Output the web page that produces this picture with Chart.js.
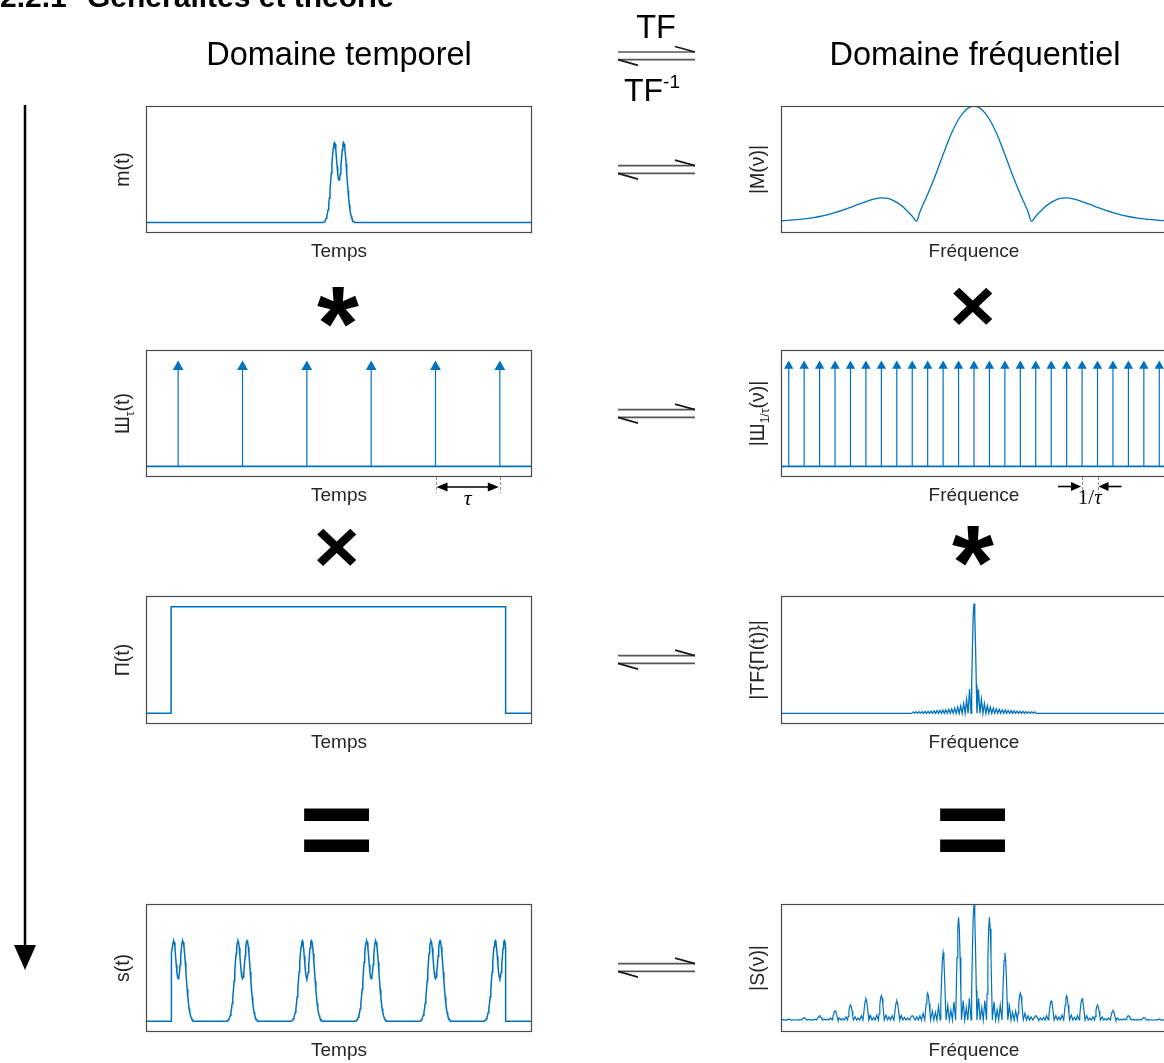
<!DOCTYPE html>
<html><head><meta charset="utf-8">
<script src="https://cdn.jsdelivr.net/npm/chart.js@4.4.1/dist/chart.umd.min.js"></script>
<style>
html,body{margin:0;padding:0;background:#fff;width:1164px;height:1063px;overflow:hidden;}
#stage{position:relative;width:1164px;height:1063px;overflow:hidden;background:#fff;}
canvas{position:absolute;}
</style></head>
<body><div id="stage"><canvas id="deco" width="1164" height="1063" style="left:0;top:0;width:1164px;height:1063px"></canvas></div>
<script>
// ---------------- DATA ----------------
const timeRange = [0, 6];
const freqRange = [0, 25];
const combTimes = [0.5, 1.5, 2.5, 3.5, 4.5, 5.5];
const combFreqs = [0.5,1.5,2.5,3.5,4.5,5.5,6.5,7.5,8.5,9.5,10.5,11.5,12.5,13.5,14.5,15.5,16.5,17.5,18.5,19.5,20.5,21.5,22.5,23.5,24.5];
const deltaTip = 1.0;
const singlePulseCenter = 3.0;
const pulseOffsets = [0,0.01,0.02,0.03,0.04,0.05,0.06,0.07,0.08,0.09,0.10,0.11,0.12,0.13,0.14,0.15,0.16,0.17,0.18,0.19,0.20,0.21,0.22,0.23,0.24,0.25];
const pulseProfile = [0.400,0.415,0.460,0.530,0.610,0.685,0.740,0.755,0.740,0.700,0.635,0.555,0.465,0.380,0.300,0.230,0.170,0.120,0.085,0.058,0.038,0.024,0.014,0.007,0.003,0];
const rectTimes  = [0, 0.39, 0.39, 5.59, 5.59, 6];
const rectLevels = [0, 0, 1, 1, 0, 0];
const rectWindow = [0.39, 5.59];

const freqCenter = 12.5;
const mFreqOffsets = [0,0.5,1,1.5,2,2.5,3,3.5,3.72,4,4.5,5,5.5,6,6.5,7,7.5,8,8.5,9,9.5,10,10.5,11,11.5,12,12.5];
const mMagnitude   = [1.0,0.97,0.885,0.75,0.58,0.40,0.235,0.085,0,0.045,0.115,0.165,0.198,0.205,0.193,0.172,0.148,0.122,0.098,0.077,0.058,0.043,0.031,0.022,0.015,0.010,0.006];

const tfPeak = 1.03;
const mainLobeOffsets = [0.05, 0.10, 0.15];
const mainLobeShape = [0.89, 0.61, 0.26];
const lobeSpacing = 0.192;
const tfSideLobes = [0.225,0.13,0.092,0.071,0.058,0.049,0.042,0.037,0.033,0.030,0.027,0.025,0.023,0.021,0.019,0.018,0.017,0.016,0.015,0.014];

const sPeakHeights = [0.01,0.023,0.04,0.083,0.133,0.185,0.213,0.167,0.04,0.234,0.58,0.885,1.0,0.885,0.58,0.234,0.04,0.167,0.213,0.185,0.133,0.083,0.04,0.023,0.01];
const sRipples = [
 [0.005,0.004,0.006],[0.008,0.006,0.010],[0.012,0.010,0.020],[0.020,0.015,0.030],
 [0.030,0.020,0.040],[0.040,0.025,0.045],[0.045,0.030,0.040],[0.040,0.025,0.020],
 [0.030,0.040,0.060],[0.080,0.070,0.120],[0.130,0.090,0.160],[0.170,0.110,0.190],
 [0.190,0.110,0.170],[0.160,0.090,0.130],[0.120,0.070,0.080],[0.060,0.040,0.030],
 [0.020,0.025,0.040],[0.040,0.030,0.045],[0.045,0.025,0.040],[0.040,0.020,0.030],
 [0.030,0.015,0.020],[0.020,0.010,0.012],[0.010,0.006,0.008],[0.006,0.004,0.005]
];
const sRippleOffsets = [0.3, 0.5, 0.7];
const sFloorOffsets = [0.19, 0.4, 0.6, 0.81];
const sFloor = 0.003;
const sEdgeLeft  = [[0,0.004],[0.15,0.006],[0.31,0.002]];
const sEdgeRight = [[24.69,0.002],[24.85,0.006],[25,0.004]];

const yTime = [-0.1, 1.1];
const yMag  = [-0.1, 1.0];

// ---------------- STYLE ----------------
const BLUE = '#0072BD';
const FRAME = '#4a4a4a';
const LABEL = '#262626';
const SANS = '"Liberation Sans", Arial, Helvetica, sans-serif';
const SERIF = '"Liberation Serif", "DejaVu Serif", serif';
const PAD = {l:46, r:4, t:4, b:40};
const COLX = [146, 781];
const BOXW = 386;
const ROWS = [{y:106,h:127},{y:350,h:127},{y:596,h:128},{y:904,h:128}];
const stage = document.getElementById('stage');

// ---------------- BUILDERS ----------------
function pulseAt(c){
  const p=[];
  for(let i=pulseOffsets.length-1;i>0;i--) p.push({x:c-pulseOffsets[i], y:pulseProfile[i]});
  for(let i=0;i<pulseOffsets.length;i++) p.push({x:c+pulseOffsets[i], y:pulseProfile[i]});
  return p;
}
function lobeCluster(c,hgt){
  const p=[];
  for(let i=mainLobeOffsets.length-1;i>=0;i--) p.push({x:c-mainLobeOffsets[i], y:hgt*mainLobeShape[i]});
  p.push({x:c,y:hgt});
  for(let i=0;i<mainLobeOffsets.length;i++) p.push({x:c+mainLobeOffsets[i], y:hgt*mainLobeShape[i]});
  return p;
}
const mTimePts = [{x:timeRange[0],y:0}, ...pulseAt(singlePulseCenter), {x:timeRange[1],y:0}];
const rectPts = rectTimes.map((t,i)=>({x:t,y:rectLevels[i]}));
const sTimePts = [{x:timeRange[0],y:0},{x:rectWindow[0],y:0}];
combTimes.forEach(c=>pulseAt(c).forEach(p=>{ if(p.x>=rectWindow[0]-1e-9 && p.x<=rectWindow[1]+1e-9) sTimePts.push(p); }));
sTimePts.push({x:rectWindow[1],y:0},{x:timeRange[1],y:0});

const mFreqPts=[];
for(let i=mFreqOffsets.length-1;i>0;i--) mFreqPts.push({x:freqCenter-mFreqOffsets[i], y:mMagnitude[i]});
for(let i=0;i<mFreqOffsets.length;i++) mFreqPts.push({x:freqCenter+mFreqOffsets[i], y:mMagnitude[i]});

const tfPts=[{x:freqRange[0],y:0}];
for(let n=tfSideLobes.length;n>=1;n--){ tfPts.push({x:freqCenter-(n+1)*lobeSpacing,y:0},{x:freqCenter-(n+0.5)*lobeSpacing,y:tfSideLobes[n-1]}); }
tfPts.push({x:freqCenter-lobeSpacing,y:0}, ...lobeCluster(freqCenter,tfPeak), {x:freqCenter+lobeSpacing,y:0});
for(let n=1;n<=tfSideLobes.length;n++){ tfPts.push({x:freqCenter+(n+0.5)*lobeSpacing,y:tfSideLobes[n-1]},{x:freqCenter+(n+1)*lobeSpacing,y:0}); }
tfPts.push({x:freqRange[1],y:0});

const sFreqPts = sEdgeLeft.map(([x,y])=>({x,y}));
combFreqs.forEach((f,k)=>{
  sFreqPts.push(...lobeCluster(f,sPeakHeights[k]));
  if(k<combFreqs.length-1){
    const r=sRipples[k];
    sFreqPts.push({x:f+sFloorOffsets[0],y:sFloor});
    for(let j=0;j<3;j++){ sFreqPts.push({x:f+sRippleOffsets[j],y:r[j]},{x:f+sFloorOffsets[j+1],y:sFloor}); }
  }
});
sEdgeRight.forEach(([x,y])=>sFreqPts.push({x,y}));

function line(data, w, extra){ return Object.assign({data, borderColor:BLUE, borderWidth:w||1.5, pointRadius:0, fill:false, tension:0, spanGaps:false}, extra||{}); }
function combSets(positions, xr, box, r){
  const pxPerUnit = box.h/(yTime[1]-yTime[0]);
  const head = deltaTip - r/pxPerUnit;
  const stems=[];
  positions.forEach(p=>{ stems.push({x:p,y:0},{x:p,y:head},{x:p,y:null}); });
  return [
    line([{x:xr[0],y:0},{x:xr[1],y:0}],1.6),
    line(stems,1.2),
    {data:positions.map(p=>({x:p,y:head})), showLine:false, pointStyle:'triangle', pointRadius:r, pointBackgroundColor:BLUE, pointBorderWidth:0, borderColor:BLUE}
  ];
}

// ---------------- DRAW HELPERS ----------------
function drawRich(ctx, segs, cx, cy, size, rotate){
  ctx.save(); ctx.translate(cx,cy); if(rotate) ctx.rotate(-Math.PI/2);
  let total=0;
  segs.forEach(s=>{ s.fs = s.sub? size*0.62 : size; ctx.font = s.fs+'px '+SANS; s.w=ctx.measureText(s.t).width; total+=s.w; });
  let x=-total/2; ctx.textBaseline='middle'; ctx.fillStyle=LABEL;
  segs.forEach(s=>{ ctx.font=s.fs+'px '+SANS; ctx.fillText(s.t, x, s.sub? size*0.32 : 0); x+=s.w; });
  ctx.restore();
}
function head(ctx, tipX, y, dir, len, half){
  ctx.beginPath(); ctx.moveTo(tipX,y); ctx.lineTo(tipX-dir*len,y-half); ctx.lineTo(tipX-dir*len,y+half); ctx.closePath(); ctx.fill();
}
function makeChart(col,row,xr,yr,datasets,xLabel,yLabel,extra){
  const box={x:COLX[col],y:ROWS[row].y,w:BOXW,h:ROWS[row].h};
  const cv=document.createElement('canvas');
  const W=box.w+PAD.l+PAD.r, H=box.h+PAD.t+PAD.b;
  cv.width=W; cv.height=H; cv.style.width=W+'px'; cv.style.height=H+'px';
  cv.style.left=(box.x-PAD.l)+'px'; cv.style.top=(box.y-PAD.t)+'px';
  stage.appendChild(cv);
  const sets = typeof datasets==='function'? datasets(box) : datasets;
  return new Chart(cv.getContext('2d'),{
    type:'line', data:{datasets:sets},
    options:{responsive:false, animation:false, devicePixelRatio:1, events:[],
      layout:{autoPadding:false, padding:{left:PAD.l,right:PAD.r,top:PAD.t,bottom:PAD.b}},
      plugins:{legend:{display:false},tooltip:{enabled:false}},
      scales:{x:{type:'linear',min:xr[0],max:xr[1],display:false},y:{type:'linear',min:yr[0],max:yr[1],display:false}}},
    plugins:[{id:'frame',afterDraw(chart){
      const ctx=chart.ctx, a=chart.chartArea;
      ctx.save();
      ctx.strokeStyle=FRAME; ctx.lineWidth=1.2;
      ctx.strokeRect(a.left+0.5,a.top+0.5,a.right-a.left-1,a.bottom-a.top-1);
      ctx.fillStyle=LABEL; ctx.font='19px '+SANS; ctx.textAlign='center'; ctx.textBaseline='middle';
      ctx.fillText(xLabel,(a.left+a.right)/2,a.bottom+19);
      ctx.textAlign='left';
      drawRich(ctx,yLabel,a.left-22,(a.top+a.bottom)/2,19.5,true);
      if(extra) extra(chart,ctx,a);
      ctx.restore();
    }}]
  });
}

// ---------------- CHARTS ----------------
const T='Temps', F='Fréquence';
makeChart(0,0,timeRange,yTime,[line(mTimePts,1.5)],T,[{t:'m(t)'}]);
makeChart(1,0,freqRange,yMag,[line(mFreqPts,1.3,{cubicInterpolationMode:'monotone'})],F,[{t:'|M(ν)|'}]);

makeChart(0,1,timeRange,yTime,box=>combSets(combTimes,timeRange,box,6.2),T,[{t:'Ш'},{t:'τ',sub:1},{t:'(t)'}],(chart,ctx,a)=>{
  const xs=chart.scales.x, x1=xs.getPixelForValue(combTimes[4]), x2=xs.getPixelForValue(combTimes[5]);
  ctx.strokeStyle='#8c8c8c'; ctx.lineWidth=1; ctx.setLineDash([3,2]);
  [x1,x2].forEach(x=>{ctx.beginPath();ctx.moveTo(Math.round(x)+0.5,a.bottom);ctx.lineTo(Math.round(x)+0.5,a.bottom+16);ctx.stroke();});
  ctx.setLineDash([]);
  const y=a.bottom+10; ctx.strokeStyle='#000'; ctx.fillStyle='#000'; ctx.lineWidth=1.6;
  ctx.beginPath(); ctx.moveTo(x1+6,y); ctx.lineTo(x2-6,y); ctx.stroke();
  head(ctx,x1+1,y,-1,11,4.5); head(ctx,x2-1,y,1,11,4.5);
  ctx.font='italic 22px '+SERIF; ctx.textAlign='center'; ctx.textBaseline='middle';
  ctx.fillText('τ',(x1+x2)/2,a.bottom+22);
});
makeChart(1,1,freqRange,yTime,box=>combSets(combFreqs,freqRange,box,5.4),F,[{t:'|Ш'},{t:'1/τ',sub:1},{t:'(ν)|'}],(chart,ctx,a)=>{
  const xs=chart.scales.x, x1=xs.getPixelForValue(combFreqs[19]), x2=xs.getPixelForValue(combFreqs[20]);
  ctx.strokeStyle='#8c8c8c'; ctx.lineWidth=1; ctx.setLineDash([3,2]);
  [x1,x2].forEach(x=>{ctx.beginPath();ctx.moveTo(Math.round(x)+0.5,a.bottom);ctx.lineTo(Math.round(x)+0.5,a.bottom+16);ctx.stroke();});
  ctx.setLineDash([]);
  const y=a.bottom+9.5; ctx.strokeStyle='#000'; ctx.fillStyle='#000'; ctx.lineWidth=1.6;
  ctx.beginPath(); ctx.moveTo(x1-24,y); ctx.lineTo(x1-6,y); ctx.stroke(); head(ctx,x1-1,y,1,10,4.5);
  ctx.beginPath(); ctx.moveTo(x2+24,y); ctx.lineTo(x2+6,y); ctx.stroke(); head(ctx,x2+1,y,-1,10,4.5);
  ctx.textBaseline='middle'; ctx.textAlign='left';
  ctx.font='21px '+SERIF; const w1=ctx.measureText('1/').width;
  ctx.font='italic 21px '+SERIF; const w2=ctx.measureText('τ').width;
  const sx=(x1+x2)/2-(w1+w2)/2;
  ctx.font='21px '+SERIF; ctx.fillText('1/',sx,a.bottom+21);
  ctx.font='italic 21px '+SERIF; ctx.fillText('τ',sx+w1,a.bottom+21);
});

makeChart(0,2,timeRange,yTime,[line(rectPts,1.5)],T,[{t:'Π(t)'}]);
makeChart(1,2,freqRange,yTime,[line(tfPts,1.3)],F,[{t:'|TF{Π(t)}|'}]);
makeChart(0,3,timeRange,yTime,[line(sTimePts,1.5)],T,[{t:'s(t)'}]);
makeChart(1,3,freqRange,yMag,[line(sFreqPts,1.2)],F,[{t:'|S(ν)|'}]);

// ---------------- DECORATIONS ----------------
const d=document.getElementById('deco').getContext('2d');
d.fillStyle='#000'; d.textBaseline='alphabetic';
d.font='bold 30px '+SANS;
d.fillText('2.2.1',0,7);
d.fillText('Généralités et théorie',87,7);

d.font='32.5px '+SANS; d.textAlign='center';
d.fillText('Domaine temporel',339,65);
d.fillText('Domaine fréquentiel',975,65);
d.fillText('TF',656,38);
(function(){ d.textAlign='left'; d.font='32px '+SANS; const w=d.measureText('TF').width; d.font='19px '+SANS; const w2=d.measureText('-1').width;
  const x0=652-(w+w2)/2; d.font='32px '+SANS; d.fillText('TF',x0,101); d.font='19px '+SANS; d.fillText('-1',x0+w,88); })();

function harpoon(U){
  d.strokeStyle='#555'; d.lineWidth=1.7;
  d.beginPath(); d.moveTo(618,U); d.lineTo(695,U); d.moveTo(618,U+7.6); d.lineTo(695,U+7.6); d.stroke();
  d.strokeStyle='#1a1a1a'; d.lineWidth=1.8;
  d.beginPath(); d.moveTo(675,U-5.5); d.lineTo(695,U); d.moveTo(618,U+7.6); d.lineTo(638,U+13.4); d.stroke();
}
harpoon(52);
ROWS.forEach(r=>harpoon(r.y+59.7));

function glyphFit(ch,font,cx,cy,w,h){
  d.save(); d.font=font; d.textAlign='left'; d.textBaseline='alphabetic';
  const m=d.measureText(ch);
  const L=m.actualBoundingBoxLeft, R=m.actualBoundingBoxRight, A=m.actualBoundingBoxAscent, D=m.actualBoundingBoxDescent;
  d.translate(cx,cy); d.scale(w/(L+R), h/(A+D));
  d.fillStyle='#000'; d.fillText(ch, -(R-L)/2, (A-D)/2);
  d.restore();
}
const BIG='bold 100px '+SANS;
glyphFit('*',BIG,338,307,42,40);
glyphFit('×',BIG,973,306,40,38);
glyphFit('×',BIG,337,547,40,38);
glyphFit('*',BIG,973,546,42,40);
glyphFit('=',BIG,337,830,66,44);
glyphFit('=',BIG,973,830,66,44);

// vertical arrow
d.strokeStyle='#000'; d.lineWidth=2.5;
d.beginPath(); d.moveTo(25,105); d.lineTo(25,948); d.stroke();
d.beginPath(); d.moveTo(14,945); d.lineTo(36,945); d.lineTo(25,970); d.closePath(); d.fill();
</script></body></html>
